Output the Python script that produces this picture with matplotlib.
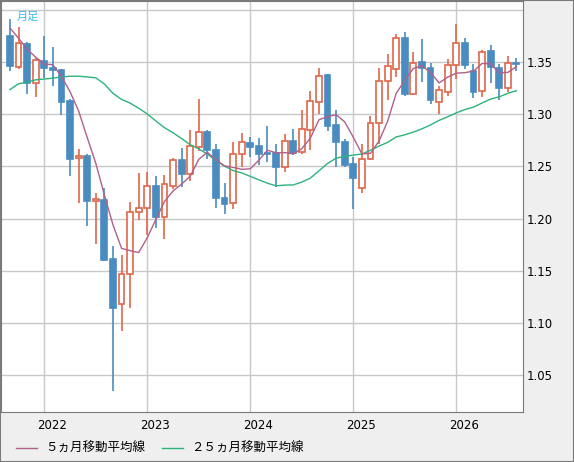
import matplotlib
matplotlib.use("Agg")
import matplotlib.pyplot as plt
import numpy as np
import pandas as pd

# Monthly OHLC, Sep 2021 .. Aug 2026
opens = [1.375,1.3455,1.367,1.330,1.351,1.344,1.342,1.313,1.2575,1.2595,1.217,1.2176,1.161,1.118,1.147,1.206,
         1.2097,1.2316,1.2017,1.2316,1.2557,1.2427,1.2684,1.2833,1.266,1.220,1.2145,1.262,1.2726,1.269,1.262,1.2627,
         1.2493,1.2745,1.264,1.285,1.3112,1.3376,1.2897,1.2729,1.2519,1.229,1.2573,1.2916,1.332,1.3436,1.3726,1.3192,
         1.350,1.344,1.312,1.3214,1.347,1.3678,1.3414,1.3224,1.3605,1.344,1.325,1.3488]
highs = [1.391,1.383,1.369,1.354,1.375,1.364,1.343,1.314,1.267,1.2615,1.224,1.229,1.174,1.165,1.216,1.244,
         1.245,1.2405,1.242,1.258,1.268,1.285,1.314,1.285,1.271,1.234,1.273,1.282,1.278,1.277,1.289,1.271,
         1.2805,1.286,1.304,1.322,1.344,1.3386,1.304,1.276,1.2586,1.2716,1.298,1.344,1.358,1.377,1.379,1.3595,
         1.372,1.349,1.327,1.3526,1.386,1.3726,1.348,1.361,1.366,1.348,1.3557,1.354]
lows = [1.341,1.343,1.319,1.316,1.335,1.3265,1.299,1.241,1.215,1.193,1.176,1.159,1.035,1.092,1.114,1.199,
        1.184,1.191,1.180,1.228,1.230,1.236,1.265,1.257,1.210,1.204,1.209,1.249,1.259,1.251,1.2538,1.230,
        1.2446,1.261,1.262,1.266,1.300,1.2836,1.249,1.249,1.209,1.2246,1.256,1.2716,1.3135,1.3357,1.3176,1.318,
        1.331,1.3097,1.300,1.317,1.3335,1.343,1.3154,1.3167,1.3294,1.3135,1.3208,1.341]
closes = [1.346,1.368,1.330,1.352,1.344,1.342,1.312,1.257,1.2595,1.217,1.2185,1.1605,1.114,1.147,1.206,1.2097,
          1.2316,1.2017,1.2326,1.2564,1.2427,1.269,1.283,1.266,1.220,1.214,1.262,1.2735,1.2684,1.2617,1.2615,1.2493,
          1.2745,1.263,1.286,1.3126,1.3367,1.289,1.273,1.2512,1.239,1.2573,1.2916,1.332,1.346,1.3726,1.3192,1.349,
          1.3446,1.3135,1.323,1.347,1.3678,1.347,1.3208,1.3598,1.3452,1.325,1.3488,1.3478]
# closes before the first visible month (for moving averages)
earlier_closes = [1.229,1.294,1.293,1.326,1.321,1.282,1.241,1.259,1.234,1.240,1.309,1.337,
                  1.292,1.295,1.333,1.367,1.371,1.393,1.378,1.381,1.4167,1.3827,1.3905,1.376]
year_labels = ["2022", "2023", "2024", "2025", "2026"]
year_idx = [4, 16, 28, 40, 52]
legend_labels = ["５ヵ月移動平均線", "２５ヵ月移動平均線"]

n = len(closes)
allc = pd.Series(earlier_closes + closes)
ma5 = allc.rolling(5).mean().values[-n:]
ma25 = allc.rolling(25).mean().values[-n:]

BG = "#efefef"
UP = "#e0674a"
DN = "#4a8bc0"
fig = plt.figure(figsize=(5.74, 4.62), dpi=100, facecolor=BG)
ax = fig.add_axes([1/574, 1-412/462, 522/574, 411/462])
ax.set_facecolor("white")
x = np.arange(n)
ax.set_xlim(-1.047, 59.77)
ax.set_ylim(1.0147, 1.4083)

for v in [1.05,1.10,1.15,1.20,1.25,1.30,1.35,1.40]:
    ax.axhline(v, color="#c8c8c8", lw=1, zorder=0)
for i in year_idx:
    ax.axvline(i, color="#c8c8c8", lw=1, zorder=0)

w = 0.68
for i in range(n):
    o, h, l, c = opens[i], highs[i], lows[i], closes[i]
    up = c >= o
    col = UP if up else DN
    ax.vlines(i, l, h, color=col, lw=1.2, zorder=2)
    lo, hi = min(o, c), max(o, c)
    ax.bar(i, max(hi - lo, 0.0008), bottom=lo, width=w,
           facecolor="white" if up else DN, edgecolor=col, lw=1.2, zorder=3)

ax.plot(x, ma25, color="#2db37a", lw=1, zorder=4)
ax.plot(x, ma5, color="#b0608a", lw=1, zorder=4)

ax.set_xticks([])
ax.yaxis.tick_right()
ax.set_yticks([1.05,1.10,1.15,1.20,1.25,1.30,1.35])
ax.set_yticklabels(["1.05","1.10","1.15","1.20","1.25","1.30","1.35"], fontsize=8.5)
ax.tick_params(axis="y", length=0, pad=3)
for s in ax.spines.values():
    s.set_color("#7a7a7a")

for lab, i in zip(year_labels, year_idx):
    ax.annotate(lab, xy=(i, 0), xycoords=("data", "axes fraction"),
                xytext=(5.5, -10), textcoords="offset points", ha="center", va="center", fontsize=8.5)

ax.text(0.03, 0.975, "月足", transform=ax.transAxes, color="#33bbee", fontsize=8,
        family=["Noto Sans CJK JP", "DejaVu Sans"], va="top")

cjk = ["Noto Sans CJK JP", "DejaVu Sans"]
fig.lines.append(plt.Line2D([16/574, 37/574], [1-448/462]*2, color="#b0608a", lw=1, transform=fig.transFigure))
fig.text(45/574, 1-448/462, legend_labels[0], fontsize=9, family=cjk, va="center")
fig.lines.append(plt.Line2D([162/574, 183/574], [1-448/462]*2, color="#2db37a", lw=1, transform=fig.transFigure))
fig.text(191/574, 1-448/462, legend_labels[1], fontsize=9, family=cjk, va="center")

# outer border
fig.patches.append(plt.Rectangle((0, 0), 1, 1, transform=fig.transFigure, fill=False, ec="#7a7a7a", lw=1.5))

fig.savefig("out.png", dpi=100, facecolor=BG)
